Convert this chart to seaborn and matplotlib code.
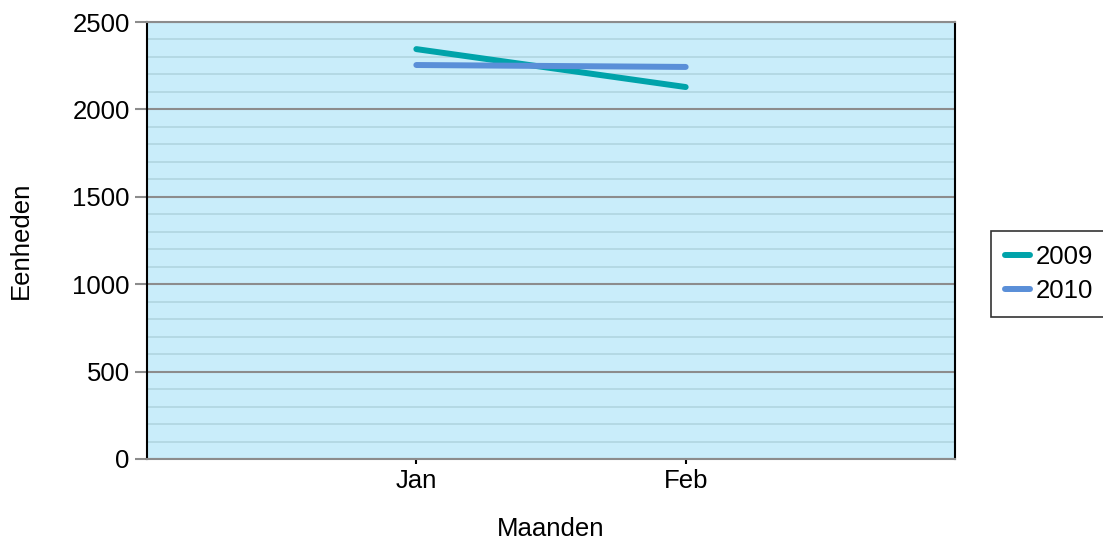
import matplotlib
matplotlib.use("Agg")
import matplotlib.pyplot as plt
from matplotlib.ticker import MultipleLocator
import pandas as pd
import seaborn as sns

months = ["Jan", "Feb"]
units_2009 = [2345, 2128]
units_2010 = [2254, 2243]
years = ["2009", "2010"]

df = pd.DataFrame({
    "Maanden": months * 2,
    "Eenheden": units_2009 + units_2010,
    "Jaar": [years[0]] * 2 + [years[1]] * 2,
})

sns.set_style("white")
plt.rcParams["font.family"] = ["Liberation Sans", "DejaVu Sans"]
plt.rcParams["text.color"] = "black"
plt.rcParams["axes.labelcolor"] = "black"

fs = 18.5
fig = plt.figure(figsize=(11.03, 5.41), dpi=100)
ax = fig.add_axes([0.1333, 0.1516, 0.7325, 0.8077])
ax.set_facecolor("#C9EDFA")

sns.lineplot(data=df, x="Maanden", y="Eenheden", hue="Jaar",
             palette=["#00A3AA", "#5A8FD8"], linewidth=4.3,
             solid_capstyle="round", ax=ax, legend=True)

ax.set_xlim(-1, 2)
ax.set_ylim(0, 2500)
ax.yaxis.set_major_locator(MultipleLocator(500))
ax.yaxis.set_minor_locator(MultipleLocator(100))
ax.grid(which="major", axis="y", color="#8C8C8C", linewidth=1.5)
ax.grid(which="minor", axis="y", color="#B0D5E0", linewidth=1.2)
ax.set_axisbelow(True)

for side in ["left", "right"]:
    ax.spines[side].set_color("black")
    ax.spines[side].set_linewidth(1.5)
for side in ["top", "bottom"]:
    ax.spines[side].set_color("#8C8C8C")
    ax.spines[side].set_linewidth(1.5)

ax.tick_params(axis="y", which="major", left=True, length=8.5, color="#8C8C8C",
               width=1.5, labelsize=fs, labelcolor="black", pad=4)
ax.tick_params(axis="y", which="minor", left=False)
ax.tick_params(axis="x", bottom=True, length=3.5, color="black", width=1.5,
               labelsize=fs, labelcolor="black", pad=4)

ax.set_xlabel("Maanden", fontsize=fs, labelpad=17)
ax.set_ylabel("Eenheden", fontsize=fs, labelpad=28)

leg = ax.legend(loc="upper left", bbox_to_anchor=(991 / 1103, 1 - 231 / 541),
                bbox_transform=fig.transFigure, frameon=True, fontsize=fs,
                fancybox=False, handlelength=0.95, handletextpad=0.25,
                borderpad=0.55, labelspacing=0.37, borderaxespad=0)
leg.get_frame().set_edgecolor("black")
leg.get_frame().set_linewidth(1.2)

fig.savefig("out.png", dpi=100)
